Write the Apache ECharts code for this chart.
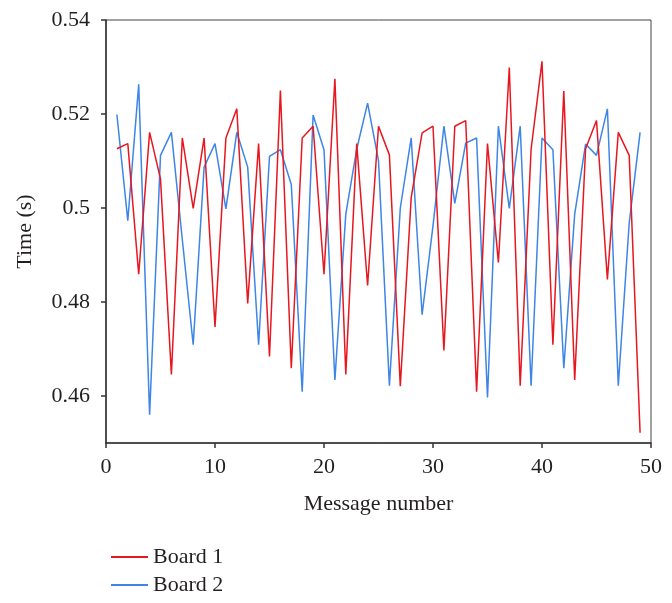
<!DOCTYPE html>
<html>
<head>
<meta charset="utf-8">
<script src="https://cdn.jsdelivr.net/npm/echarts@6/dist/echarts.min.js"></script>
<style>
html,body{margin:0;padding:0;background:#fff;}
#chart{width:672px;height:603px;}
</style>
</head>
<body>
<div id="chart"></div>
<script>
var messageNumbers = [1,2,3,4,5,6,7,8,9,10,11,12,13,14,15,16,17,18,19,20,21,22,23,24,25,26,27,28,29,30,31,32,33,34,35,36,37,38,39,40,41,42,43,44,45,46,47,48,49];
var board1 = [0.5126,0.5137,0.4859,0.5161,0.5062,0.4646,0.5149,0.4999,0.5149,0.4747,
              0.5149,0.5211,0.4797,0.5137,0.4684,0.5250,0.4659,0.5149,0.5174,0.4859,
              0.5275,0.4646,0.5137,0.4835,0.5174,0.5113,0.4621,0.5022,0.5160,0.5174,
              0.4697,0.5174,0.5186,0.4609,0.5137,0.4884,0.5299,0.4622,0.5125,0.5312,
              0.4709,0.5249,0.4634,0.5126,0.5186,0.4848,0.5161,0.5112,0.4522];
var board2 = [0.5199,0.4973,0.5263,0.4560,0.5112,0.5161,0.4933,0.4709,0.5087,0.5137,
              0.4998,0.5161,0.5087,0.4709,0.5110,0.5124,0.5050,0.4609,0.5198,0.5124,
              0.4634,0.4987,0.5125,0.5223,0.5101,0.4622,0.5000,0.5149,0.4773,0.4962,
              0.5174,0.5010,0.5138,0.5149,0.4597,0.5174,0.4999,0.5174,0.4622,0.5149,
              0.5124,0.4659,0.4987,0.5136,0.5112,0.5211,0.4622,0.4968,0.5161];
var seriesNames = ['Board 1', 'Board 2'];
var xTicks = [0, 10, 20, 30, 40, 50];
var yTicks = [0.46, 0.48, 0.50, 0.52, 0.54];

function pairs(ys) {
  return messageNumbers.map(function (x, i) { return [x, ys[i]]; });
}

var FONT = '"Liberation Serif", "DejaVu Serif", serif';
var TXT = '#231f20';
var FS = 22;

function legendFor(name, top) {
  return {
    orient: 'vertical',
    left: 106,
    top: top,
    itemWidth: 37,
    itemHeight: 2,
    icon: 'rect',
    textStyle: {fontFamily: FONT, fontSize: FS, color: TXT},
    data: [name]
  };
}

var chart = echarts.init(document.getElementById('chart'), null, {renderer: 'canvas'});
chart.setOption({
  animation: false,
  backgroundColor: '#ffffff',
  grid: {
    left: 106, right: 21, top: 20, bottom: 160,
    show: true, borderColor: '#444', borderWidth: 1, backgroundColor: 'transparent'
  },
  legend: [legendFor(seriesNames[0], 541), legendFor(seriesNames[1], 569)],
  xAxis: {
    type: 'value',
    min: 0, max: 50, interval: 10,
    name: 'Message number',
    nameLocation: 'middle',
    nameGap: 50,
    nameTextStyle: {fontFamily: FONT, fontSize: FS, color: TXT},
    axisLine: {show: true, onZero: false, lineStyle: {color: '#333', width: 1.5}},
    axisTick: {show: true, inside: false, length: 5, lineStyle: {color: '#333', width: 1.5}, customValues: xTicks},
    axisLabel: {fontFamily: FONT, fontSize: FS, color: TXT, margin: 13, customValues: xTicks},
    splitLine: {show: false}
  },
  yAxis: {
    type: 'value',
    min: 0.45, max: 0.54,
    name: 'Time (s)',
    nameLocation: 'middle',
    nameGap: 70,
    nameTextStyle: {fontFamily: FONT, fontSize: FS, color: TXT},
    axisLine: {show: true, onZero: false, lineStyle: {color: '#333', width: 1.5}},
    axisTick: {show: true, inside: false, length: 5, lineStyle: {color: '#333', width: 1.5}, customValues: yTicks},
    axisLabel: {
      fontFamily: FONT, fontSize: FS, color: TXT, margin: 16, customValues: yTicks,
      formatter: function (v) { return String(+(+v).toFixed(2)); }
    },
    splitLine: {show: false}
  },
  series: [
    {
      name: seriesNames[0], type: 'line', data: pairs(board1),
      showSymbol: false, symbol: 'none',
      itemStyle: {color: '#e8161e'},
      lineStyle: {color: '#e8161e', width: 1.5},
      z: 3
    },
    {
      name: seriesNames[1], type: 'line', data: pairs(board2),
      showSymbol: false, symbol: 'none',
      itemStyle: {color: '#3d85e6'},
      lineStyle: {color: '#3d85e6', width: 1.5},
      z: 2
    }
  ]
});
</script>
</body>
</html>
